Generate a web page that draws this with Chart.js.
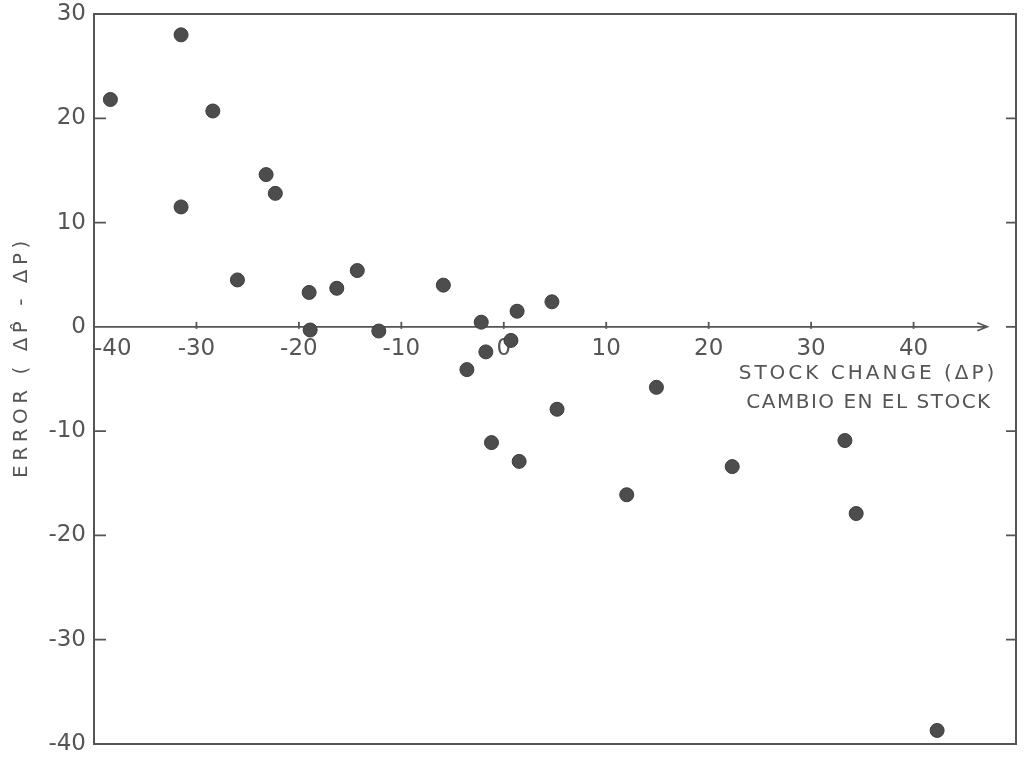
<!DOCTYPE html>
<html>
<head>
<meta charset="utf-8">
<script src="https://cdn.jsdelivr.net/npm/chart.js@4.4.1/dist/chart.umd.min.js"></script>
<style>
  html, body { margin: 0; padding: 0; background: #ffffff; }
  #wrap { position: relative; width: 1024px; height: 757px; }
</style>
</head>
<body>
<div id="wrap"><canvas id="chart"></canvas></div>
<script>
// Stock change (ΔP) for each observation and the forecast error (ΔP̂ - ΔP)
const stockChange = [-38.4, -31.5, -28.4, -31.5, -23.2, -22.3, -26.0, -19.0, -16.3, -14.3,
                     -5.9, -18.9, -12.2, -2.2, 1.3, 4.7, 0.7, -1.75, -3.6, 5.2,
                     -1.2, 1.5, 14.9, 12.0, 22.3, 33.3, 34.4, 42.3];
const errorValue  = [21.8, 28.0, 20.7, 11.5, 14.6, 12.8, 4.5, 3.3, 3.7, 5.4,
                     4.0, -0.3, -0.4, 0.45, 1.5, 2.4, -1.3, -2.4, -4.1, -7.9,
                     -11.1, -12.9, -5.8, -16.1, -13.4, -10.9, -17.9, -38.7];

// Axis tick labels
const xTicks = [-40, -30, -20, -10, 0, 10, 20, 30, 40];
const yTicks = [30, 20, 10, 0, -10, -20, -30, -40];

// Axis titles
const xTitle = ['STOCK CHANGE (\u0394P)', 'CAMBIO EN EL STOCK'];
const yTitle = 'ERROR ( \u0394P\u0302 - \u0394P)';

const FONT = '"DejaVu Sans", "Liberation Sans", sans-serif';
const INK = '#555555';
const ARROW_END = 47.2; // x value where the arrowed axis line stops

const axesPlugin = {
  id: 'axesDecor',
  beforeDraw(chart) {
    const ctx = chart.ctx;
    ctx.save();
    ctx.fillStyle = '#ffffff';
    ctx.fillRect(0, 0, chart.width, chart.height);
    ctx.restore();
  },
  beforeDatasetsDraw(chart) {
    const { ctx, chartArea: a, scales: { x, y } } = chart;
    ctx.save();
    ctx.strokeStyle = INK;
    ctx.lineCap = 'butt';

    // frame
    ctx.lineWidth = 2;
    ctx.strokeRect(a.left, a.top, a.right - a.left, a.bottom - a.top);

    // inward ticks on the left and right borders
    ctx.lineWidth = 1.8;
    yTicks.forEach(v => {
      if (v === yTicks[0] || v === yTicks[yTicks.length - 1]) return;
      const py = y.getPixelForValue(v);
      ctx.beginPath();
      if (v !== 0) { ctx.moveTo(a.left, py); ctx.lineTo(a.left + 12, py); }
      ctx.moveTo(a.right - 10, py); ctx.lineTo(a.right, py);
      ctx.stroke();
    });

    // horizontal axis at zero with an arrow
    const y0 = y.getPixelForValue(0);
    const xe = x.getPixelForValue(ARROW_END);
    ctx.lineWidth = 1.6;
    ctx.beginPath();
    ctx.moveTo(a.left, y0);
    ctx.lineTo(xe, y0);
    ctx.moveTo(xe - 10, y0 - 4);
    ctx.lineTo(xe, y0);
    ctx.lineTo(xe - 10, y0 + 4);
    ctx.stroke();

    // small tick marks on the zero axis
    ctx.lineWidth = 1.8;
    xTicks.forEach(v => {
      if (v === xTicks[0]) return;
      const px = x.getPixelForValue(v);
      ctx.beginPath();
      ctx.moveTo(px, y0 - 5);
      ctx.lineTo(px, y0 + 2);
      ctx.stroke();
    });
    ctx.restore();
  },
  afterDraw(chart) {
    const { ctx } = chart;
    ctx.save();
    ctx.fillStyle = INK;
    ctx.textAlign = 'center';
    ctx.textBaseline = 'middle';
    ctx.font = '20px ' + FONT;

    ctx.letterSpacing = '3px';
    ctx.fillText(xTitle[0], 868, 374);
    ctx.letterSpacing = '1.5px';
    ctx.fillText(xTitle[1], 869, 403);

    ctx.translate(22, 357);
    ctx.rotate(-Math.PI / 2);
    ctx.letterSpacing = '4.5px';
    ctx.fillText(yTitle, 0, 0);
    ctx.restore();
  }
};

new Chart(document.getElementById('chart'), {
  type: 'scatter',
  data: {
    datasets: [{
      data: stockChange.map((v, i) => ({ x: v, y: errorValue[i] })),
      pointRadius: 7,
      pointHoverRadius: 7,
      backgroundColor: '#4d4d4d',
      borderColor: '#3c3c3c',
      borderWidth: 1
    }]
  },
  options: {
    responsive: true,
    maintainAspectRatio: false,
    animation: false,
    events: [],
    layout: { padding: { left: 0, top: 14, right: 6, bottom: 13 } },
    plugins: { legend: { display: false }, tooltip: { enabled: false }, title: { display: false } },
    scales: {
      x: {
        type: 'linear',
        min: -40,
        max: 50,
        position: { y: 0 },
        grid: { display: false, drawTicks: false },
        border: { display: false },
        ticks: {
          stepSize: 10,
          autoSkip: false,
          maxRotation: 0,
          align: 'inner',
          padding: 8,
          color: INK,
          font: { family: FONT, size: 23 },
          callback: v => (xTicks.includes(v) ? String(v) : '')
        },
        afterFit(s) { s.paddingLeft = 0; s.paddingRight = 0; }
      },
      y: {
        type: 'linear',
        min: -40,
        max: 30,
        position: 'left',
        grid: { display: false, drawTicks: false },
        border: { display: false },
        ticks: {
          autoSkip: false,
          padding: 8,
          color: INK,
          font: { family: FONT, size: 23 },
          callback: v => String(v)
        },
        afterBuildTicks(s) { s.ticks = yTicks.map(v => ({ value: v })); },
        afterFit(s) { s.width = 94; s.paddingTop = 0; s.paddingBottom = 0; }
      }
    }
  },
  plugins: [axesPlugin]
});
</script>
</body>
</html>
